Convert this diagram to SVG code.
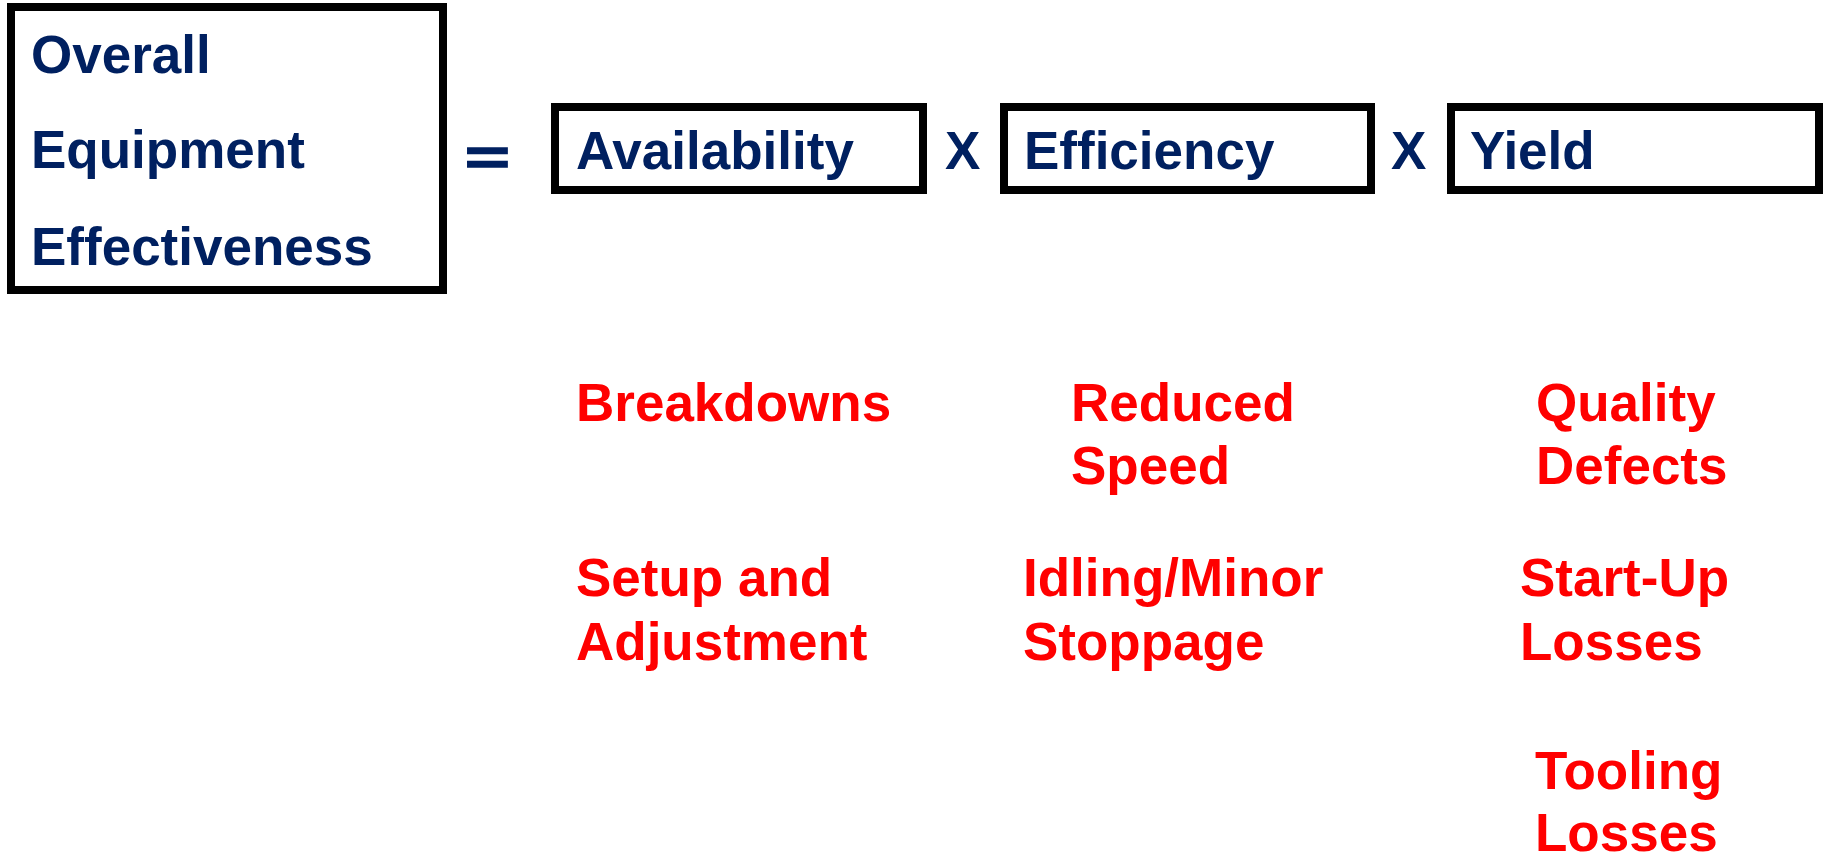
<svg xmlns="http://www.w3.org/2000/svg" width="1825" height="856" viewBox="0 0 1825 856">
<style>
.box{fill:#fff;stroke:#000;stroke-width:8}
.nv{font-family:"Liberation Sans",Arial,sans-serif;font-weight:bold;font-size:53px;fill:#002060}
.rd{font-family:"Liberation Sans",Arial,sans-serif;font-weight:bold;font-size:53px;fill:#ff0000}
</style>
<rect width="1825" height="856" fill="#fff"/>
<g id="oee">
<rect class="box" x="11" y="7" width="432" height="283"/>
<text class="nv" x="31" y="73">Overall</text>
<text class="nv" x="31" y="168">Equipment</text>
<text class="nv" x="31" y="265">Effectiveness</text>
</g>
<g id="ops">
<text class="nv" transform="translate(465,175) scale(1.45,0.95)" font-size="60" stroke="#002060" stroke-width="1.6">=</text>
<text class="nv" x="945" y="169">X</text>
<text class="nv" x="1391" y="169">X</text>
</g>
<g id="availability">
<rect class="box" x="555" y="107" width="368" height="83"/>
<text class="nv" x="576" y="169">Availability</text>
</g>
<g id="efficiency">
<rect class="box" x="1004" y="107" width="367" height="83"/>
<text class="nv" x="1024" y="169">Efficiency</text>
</g>
<g id="yield">
<rect class="box" x="1451" y="107" width="368" height="83"/>
<text class="nv" x="1470" y="169">Yield</text>
</g>
<g id="availability-losses">
<text class="rd" x="576" y="421">Breakdowns</text>
<text class="rd" x="576" y="596">Setup and</text>
<text class="rd" x="576" y="660">Adjustment</text>
</g>
<g id="efficiency-losses">
<text class="rd" x="1071" y="421">Reduced</text>
<text class="rd" x="1071" y="484">Speed</text>
<text class="rd" x="1023" y="596">Idling/Minor</text>
<text class="rd" x="1023" y="660">Stoppage</text>
</g>
<g id="yield-losses">
<text class="rd" x="1536" y="421">Quality</text>
<text class="rd" x="1536" y="484">Defects</text>
<text class="rd" x="1520" y="596">Start-Up</text>
<text class="rd" x="1520" y="660">Losses</text>
<text class="rd" x="1535" y="789">Tooling</text>
<text class="rd" x="1535" y="851">Losses</text>
</g>
</svg>
